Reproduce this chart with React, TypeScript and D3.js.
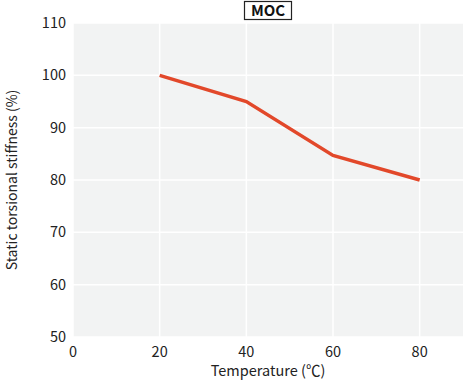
import React from "react";
import * as d3 from "d3";

const temps = [20, 40, 60, 80];
const stiffness = [100, 95, 84.7, 80];
const xTicks = [0, 20, 40, 60, 80];
const yTicks = [50, 60, 70, 80, 90, 100, 110];
const title = "MOC";
const xLabel = "Temperature (\u2103)";
const yLabel = "Static torsional stiffness (%)";

export default function App() {
  const W = 463, H = 381;
  const left = 73, right = 463, top = 23, bottom = 337;
  const x = d3.scaleLinear().domain([0, 90]).range([left, right]);
  const y = d3.scaleLinear().domain([50, 110]).range([bottom, top]);
  const line = d3.line<number>().x((_, i) => x(temps[i])).y((d) => y(d));
  const font = "'Noto Sans CJK JP', 'Noto Sans', sans-serif";
  return (
    <svg width={W} height={H} style={{ position: "absolute", left: 0, top: 0, fontFamily: font }}>
      <rect x={left} y={top} width={right - left} height={bottom - top} fill="#f2f3f3" />
      {yTicks.map((t) => (
        <line key={"gy" + t} x1={left} x2={right} y1={y(t)} y2={y(t)} stroke="#fff" strokeWidth={1.5} />
      ))}
      {xTicks.map((t) => (
        <line key={"gx" + t} x1={x(t)} x2={x(t)} y1={top} y2={bottom} stroke="#fff" strokeWidth={1.5} />
      ))}
      {yTicks.map((t) => (
        <text key={"ty" + t} x={66} y={y(t)} dy="0.35em" textAnchor="end" fontSize={14.5} fill="#222">{t}</text>
      ))}
      {xTicks.map((t) => (
        <text key={"tx" + t} x={x(t)} y={352} dy="0.35em" textAnchor="middle" fontSize={14.5} fill="#222">{t}</text>
      ))}
      <path d={line(stiffness) || ""} fill="none" stroke="#e2482a" strokeWidth={3.5} />
      <text x={(left + right) / 2} y={371} dy="0.35em" textAnchor="middle" fontSize={14.5} fill="#222">{xLabel}</text>
      <text transform={`translate(12,${(top + bottom) / 2}) rotate(-90)`} dy="0.35em" textAnchor="middle" fontSize={14} fill="#222">{yLabel}</text>
      <rect x={244.5} y={1.5} width={47} height={18} fill="#fff" stroke="#222" strokeWidth={1.2} />
      <text x={268} y={11} dy="0.35em" textAnchor="middle" fontSize={15} fontWeight="bold" fill="#111">{title}</text>
    </svg>
  );
}
